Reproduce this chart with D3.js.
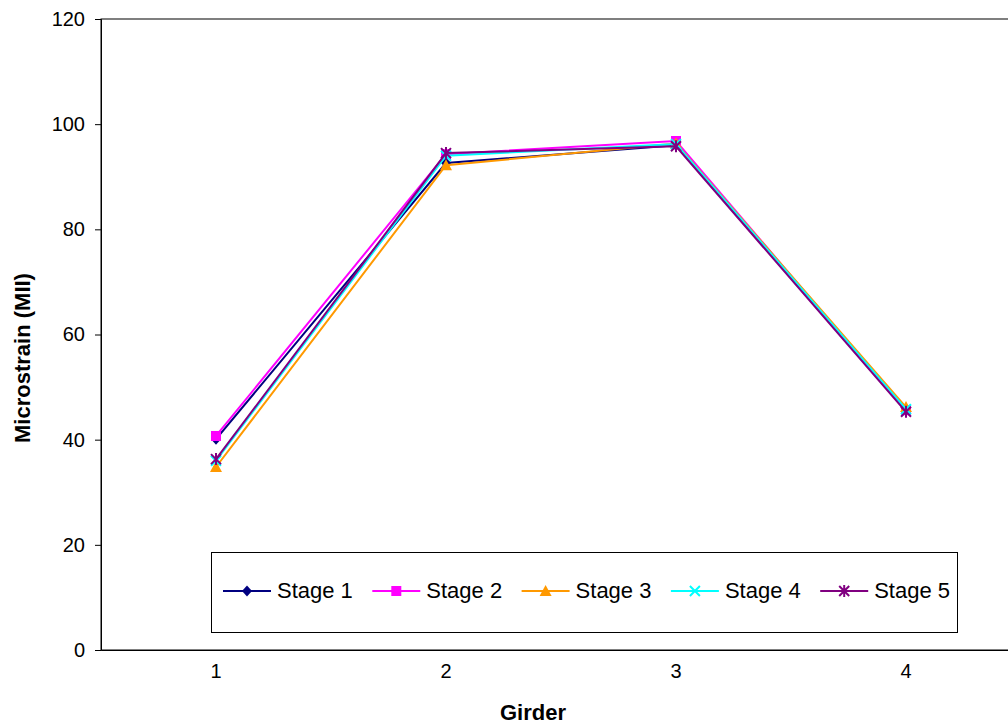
<!DOCTYPE html>
<html><head><meta charset="utf-8">
<script src="https://cdn.jsdelivr.net/npm/d3@7"></script>
<style>body{margin:0;background:#fff;overflow:hidden}svg{display:block}text{font-family:"Liberation Sans",Arial,sans-serif}</style>
</head><body><svg id="c" width="1008" height="728"></svg>
<script>
const girders = ["1","2","3","4"];
const stageNames = ["Stage 1","Stage 2","Stage 3","Stage 4","Stage 5"];
const stage1 = [40.1, 92.6, 96.0, 45.8];
const stage2 = [40.7, 94.3, 96.8, 45.6];
const stage3 = [34.8, 92.2, 96.3, 46.2];
const stage4 = [36.0, 94.0, 96.2, 45.8];
const stage5 = [36.3, 94.5, 95.8, 45.3];
const yTicks = [0,20,40,60,80,100,120];
const colors = ["#000080","#FF00FF","#FF9900","#00FFFF","#800080"];
const symbols = ["diamond","square","triangle","x","star"];
const series = [stage1,stage2,stage3,stage4,stage5];

const svg = d3.select("#c");
const L=101, T=19, B=650, W=920;
const x = d3.scaleBand().domain(girders).range([L, L+W]);
const y = d3.scaleLinear().domain([0,120]).range([B, T]);

svg.append("rect").attr("x",L).attr("y",T).attr("width",W).attr("height",B-T)
  .attr("fill","none").attr("stroke","#000").attr("stroke-width",1);

const yAxis = svg.append("g").attr("transform",`translate(${L},0)`)
  .call(d3.axisLeft(y).tickValues(yTicks).tickSize(6).tickPadding(10));
yAxis.select(".domain").attr("stroke","#000");
yAxis.selectAll("text").attr("font-size",20).attr("fill","#000");

const xAxis = svg.append("g").attr("transform",`translate(0,${B})`)
  .call(d3.axisBottom(x).tickSize(0).tickPadding(14));
xAxis.select(".domain").attr("stroke","#000");
xAxis.selectAll("text").attr("font-size",20).attr("fill","#000");

svg.append("text").attr("x",533).attr("y",720).attr("text-anchor","middle")
  .attr("font-size",22).attr("font-weight","bold").text("Girder");
svg.append("text").attr("transform","translate(30,358) rotate(-90)").attr("text-anchor","middle")
  .attr("font-size",22).attr("font-weight","bold").text("Microstrain (MII)");

function marker(g, type, color){
  if(type==="diamond") g.append("path").attr("d","M0,-5.5L5,0L0,5.5L-5,0Z").attr("fill",color);
  else if(type==="square") g.append("rect").attr("x",-5).attr("y",-5).attr("width",10).attr("height",10).attr("fill",color);
  else if(type==="triangle") g.append("path").attr("d","M0,-6L6,5L-6,5Z").attr("fill",color);
  else if(type==="x") g.append("path").attr("d","M-5,-5L5,5M-5,5L5,-5").attr("stroke",color).attr("stroke-width",2);
  else if(type==="star") g.append("path").attr("d","M-5,-5L5,5M-5,5L5,-5M0,-6L0,6").attr("stroke",color).attr("stroke-width",2);
}

const line = d3.line().x((d,i)=>x(girders[i])+x.bandwidth()/2).y(d=>y(d));
series.forEach((vals,si)=>{
  svg.append("path").datum(vals).attr("d",line).attr("fill","none")
    .attr("stroke",colors[si]).attr("stroke-width",2);
  vals.forEach((v,i)=>{
    const g = svg.append("g").attr("transform",`translate(${x(girders[i])+x.bandwidth()/2},${y(v)})`);
    marker(g, symbols[si], colors[si]);
  });
});

const lg = svg.append("g");
lg.append("rect").attr("x",211.5).attr("y",552.5).attr("width",746).attr("height",80)
  .attr("fill","#fff").attr("stroke","#000").attr("stroke-width",1);
stageNames.forEach((name,si)=>{
  const x0 = 223 + si*149.3;
  lg.append("line").attr("x1",x0).attr("x2",x0+48).attr("y1",591).attr("y2",591)
    .attr("stroke",colors[si]).attr("stroke-width",2);
  marker(lg.append("g").attr("transform",`translate(${x0+24},591)`), symbols[si], colors[si]);
  lg.append("text").attr("x",x0+54).attr("y",598).attr("font-size",22).attr("fill","#000").text(name);
});
</script></body></html>
